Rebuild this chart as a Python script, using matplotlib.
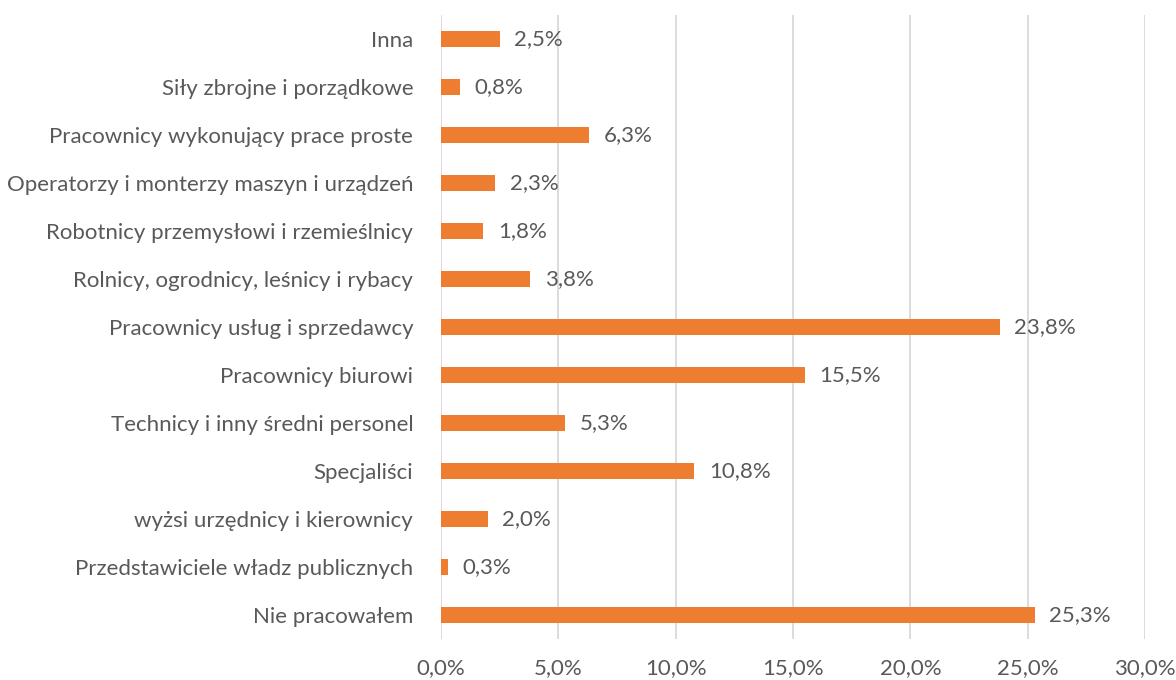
import matplotlib
matplotlib.use("Agg")
import matplotlib.pyplot as plt
from matplotlib.ticker import FuncFormatter

plt.rcParams['font.family'] = ['Lato', 'DejaVu Sans']

categories = [
    "Nie pracowałem",
    "Przedstawiciele władz publicznych",
    "wyżsi urzędnicy i kierownicy",
    "Specjaliści",
    "Technicy i inny średni personel",
    "Pracownicy biurowi",
    "Pracownicy usług i sprzedawcy",
    "Rolnicy, ogrodnicy, leśnicy i rybacy",
    "Robotnicy przemysłowi i rzemieślnicy",
    "Operatorzy i monterzy maszyn i urządzeń",
    "Pracownicy wykonujący prace proste",
    "Siły zbrojne i porządkowe",
    "Inna",
]
values = [25.3, 0.3, 2.0, 10.8, 5.3, 15.5, 23.8, 3.8, 1.8, 2.3, 6.3, 0.8, 2.5]
xticks = [0, 5, 10, 15, 20, 25, 30]

text_col = '#595959'
bar_col = '#ED7D31'
fsize = 16

fig = plt.figure(figsize=(11.76, 6.8), dpi=100)
ax = fig.add_axes([441/1176, 1 - 639/680, (1145 - 441)/1176, (639 - 15)/680])

pos = range(len(categories))
ax.barh(pos, values, height=0.32, color=bar_col, zorder=3)
for y, v in zip(pos, values):
    ax.text(v + 0.62, y, f"{v:.1f}%".replace('.', ','), va='center', ha='left',
            fontsize=fsize, color=text_col)

ax.set_xlim(0, 30)
ax.set_ylim(-0.5, len(categories) - 0.5)
ax.set_yticks(list(pos))
ax.set_yticklabels(categories)
ax.set_xticks(xticks)
ax.xaxis.set_major_formatter(FuncFormatter(lambda x, p: f"{x:.1f}%".replace('.', ',')))
ax.tick_params(axis='both', length=0, labelsize=fsize, labelcolor=text_col)
ax.tick_params(axis='y', pad=20)
ax.tick_params(axis='x', pad=14)
ax.grid(axis='x', color='#D9D9D9', linewidth=1.3, zorder=0)
for s in ax.spines.values():
    s.set_visible(False)

fig.savefig("out.png", dpi=100)
